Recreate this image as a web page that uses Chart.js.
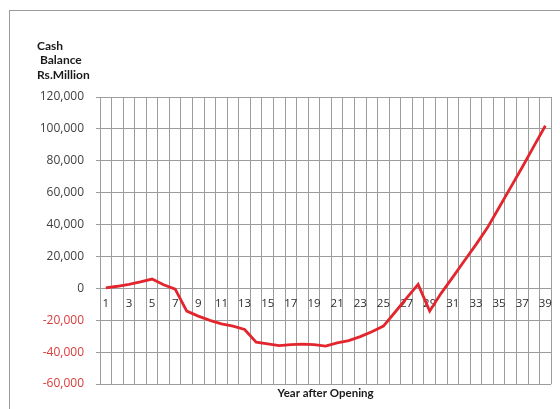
<!DOCTYPE html>
<html>
<head>
<meta charset="utf-8">
<script src="https://cdn.jsdelivr.net/npm/chart.js@4"></script>
<style>
  html, body { margin: 0; padding: 0; background: #fff; }
  #wrap { position: relative; width: 560px; height: 409px; }
</style>
</head>
<body>
<div id="wrap"><canvas id="chartCash" width="560" height="409"></canvas></div>
<script>
// year after opening (categories) and cash balance, Rs. million
const years = [1, 2, 3, 4, 5, 6, 7, 8, 9, 10, 11, 12, 13, 14, 15, 16, 17, 18, 19, 20,
  21, 22, 23, 24, 25, 26, 27, 28, 29, 30, 31, 32, 33, 34, 35, 36, 37, 38, 39];
const cashBalance = [300, 1300, 2500, 4000, 5800, 2200, -500, -14300, -17400, -20100,
  -22300, -23700, -25800, -33800, -34900, -35900, -35300, -35000, -35300, -36200,
  -34200, -32800, -30300, -27200, -23700, -15000, -6200, 2500, -14300, -3000,
  7000, 17300, 27400, 38100, 50700, 63300, 75900, 89000, 102000];
const yTicks = [-60000, -40000, -20000, 0, 20000, 40000, 60000, 80000, 100000, 120000];
const yTitle = ['Cash', ' Balance', 'Rs.Million'];
const xTitle = 'Year after Opening';

const gridColor = '#9c9c9c';
const lineColor = '#e3262e';

// frame round the chart plus the two axis titles
const chartText = {
  id: 'chartText',
  beforeDraw(chart) {
    const c = chart.ctx;
    c.save();
    c.strokeStyle = '#9a9a9a';
    c.lineWidth = 1;
    c.strokeRect(9.5, 10.5, 700, 600);
    c.restore();
  },
  afterDraw(chart) {
    const c = chart.ctx;
    const area = chart.chartArea;
    c.save();
    c.fillStyle = '#1a1a1a';
    c.font = 'bold 12px Lato';
    c.textAlign = 'left';
    c.textBaseline = 'middle';
    yTitle.forEach((t, i) => c.fillText(t, 37, 46 + i * 14.5));
    c.font = 'bold 11.5px Lato';
    c.textAlign = 'center';
    c.fillText(xTitle, (area.left + area.right) / 2, 393);
    c.restore();
  }
};

const ctx = document.getElementById('chartCash').getContext('2d');
const chart = new Chart(ctx, {
  type: 'line',
  data: {
    labels: years,
    datasets: [{
      data: cashBalance,
      borderColor: lineColor,
      borderWidth: 2.8,
      pointRadius: 0,
      tension: 0
    }]
  },
  options: {
    responsive: false,
    animation: false,
    layout: { padding: { top: 97, right: 5, bottom: 25, left: 0 } },
    plugins: {
      legend: { display: false },
      tooltip: { enabled: false }
    },
    scales: {
      x: {
        type: 'category',
        position: { y: 0 },
        offset: true,
        grid: { color: gridColor, offset: true, drawTicks: false },
        border: { color: gridColor },
        ticks: {
          autoSkip: false,
          maxRotation: 0,
          padding: 8,
          color: '#2e2e2e',
          font: { family: 'Open Sans', size: 11.5 },
          callback: (val, i) => (i % 2 === 0 ? String(years[i]) : '')
        }
      },
      y: {
        min: yTicks[0],
        max: yTicks[yTicks.length - 1],
        afterBuildTicks: scale => { scale.ticks = yTicks.map(v => ({ value: v })); },
        afterFit: scale => { scale.width = 100; },
        grid: { color: gridColor, tickLength: 4 },
        border: { color: gridColor },
        ticks: {
          padding: 12,
          font: { family: 'Open Sans', size: 12 },
          color: c => (c.tick && c.tick.value < 0 ? '#d93b3b' : '#404040'),
          callback: v => v.toLocaleString('en-US')
        }
      }
    }
  },
  plugins: [chartText]
});
</script>
</body>
</html>
